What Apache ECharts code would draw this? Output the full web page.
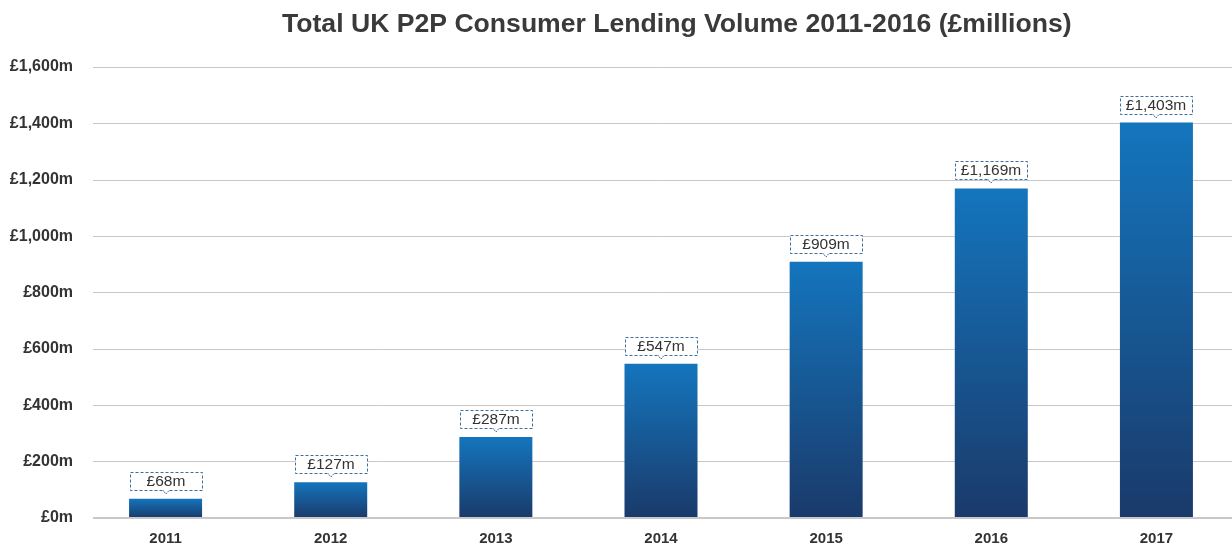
<!DOCTYPE html>
<html>
<head>
<meta charset="utf-8">
<script src="https://cdn.jsdelivr.net/npm/echarts@6/dist/echarts.min.js"></script>
<style>
html,body{margin:0;padding:0;background:#fff;overflow:hidden;width:1232px;height:544px;}
#chart{width:1240px;height:544px;}
</style>
</head>
<body>
<div id="chart"></div>
<script>
const years = ['2011','2012','2013','2014','2015','2016','2017'];
const volumes = [68, 127, 287, 547, 909, 1169, 1403];
const yMin = 0, yMax = 1600, yStep = 200;

function fmtMoney(v){ return '£' + v.toLocaleString('en-GB') + 'm'; }

const FONT = 'Liberation Sans, Arial, Helvetica, sans-serif';
const chart = echarts.init(document.getElementById('chart'));
chart.setOption({
  animation: false,
  backgroundColor: '#fff',
  title: {
    text: 'Total UK P2P Consumer Lending Volume 2011-2016 (£millions)',
    left: 277, top: 6,
    textStyle: { fontFamily: FONT, fontSize: 26.6, fontWeight: 'bold', color: '#3a3a3a' }
  },
  grid: [
    { left: 93, right: 8, top: 67, bottom: 26, outerBoundsMode: 'none' },
    { left: 83, right: 1, top: 67, bottom: 26, outerBoundsMode: 'none' }
  ],
  xAxis: [
    { type: 'category', gridIndex: 0, data: years, show: false },
    { type: 'category', gridIndex: 1, data: years,
      axisLine: { show: false },
      axisTick: { show: false },
      axisLabel: { margin: 13, fontFamily: FONT, fontSize: 15, fontWeight: 'bold', color: '#333' }
    }
  ],
  yAxis: [
    { type: 'value', gridIndex: 0, min: yMin, max: yMax, interval: yStep,
      axisLine: { show: false }, axisTick: { show: false },
      splitLine: { lineStyle: { color: '#c8c8c8', width: 1 } },
      axisLabel: { margin: 20, formatter: fmtMoney, fontFamily: FONT, fontSize: 16, fontWeight: 'bold', color: '#333' }
    },
    { type: 'value', gridIndex: 1, min: yMin, max: yMax, interval: yStep, show: false, splitLine: { show: false } }
  ],
  series: [
    { type: 'line', xAxisIndex: 0, yAxisIndex: 0, data: [], silent: true,
      markLine: { silent: true, symbol: 'none', label: { show: false },
        lineStyle: { color: '#c8c8c8', width: 2, type: 'solid' }, data: [{ yAxis: 0 }] } },
    {
      type: 'bar', xAxisIndex: 1, yAxisIndex: 1, data: volumes, barWidth: 73,
      itemStyle: {
        color: new echarts.graphic.LinearGradient(0, 0, 0, 1, [
          { offset: 0, color: '#1475bd' },
          { offset: 1, color: '#1a3a6a' }
        ])
      }
    },
    {
      type: 'custom', xAxisIndex: 1, yAxisIndex: 1, silent: true, z: 5,
      data: volumes.map((v, i) => [i, v]),
      renderItem: function (params, api) {
        const p = api.coord([api.value(0), api.value(1)]);
        const cx = Math.round(p[0]);
        const bottom = Math.round(p[1] - 9);
        const top = bottom - 18;
        const stroke = '#3f6f9f';
        return {
          type: 'group',
          children: [
            { type: 'rect', shape: { x: cx - 36 + 0.5, y: top + 0.5, width: 72, height: 18 },
              style: { fill: '#fff', stroke: stroke, lineWidth: 1, lineDash: [3, 2] } },
            { type: 'polygon', shape: { points: [[cx - 3, bottom + 0.5], [cx + 3, bottom + 0.5], [cx, bottom + 4]] },
              style: { fill: '#fff', stroke: stroke, lineWidth: 1, lineDash: [2, 1] } },
            { type: 'rect', shape: { x: cx - 2.5, y: bottom - 0.5, width: 5, height: 1.5 },
              style: { fill: '#fff' } },
            { type: 'text', style: { text: fmtMoney(api.value(1)), x: cx, y: top + 10,
              align: 'center', verticalAlign: 'middle', fill: '#333', font: '15.5px ' + FONT } }
          ]
        };
      }
    }
  ]
});
</script>
</body>
</html>
